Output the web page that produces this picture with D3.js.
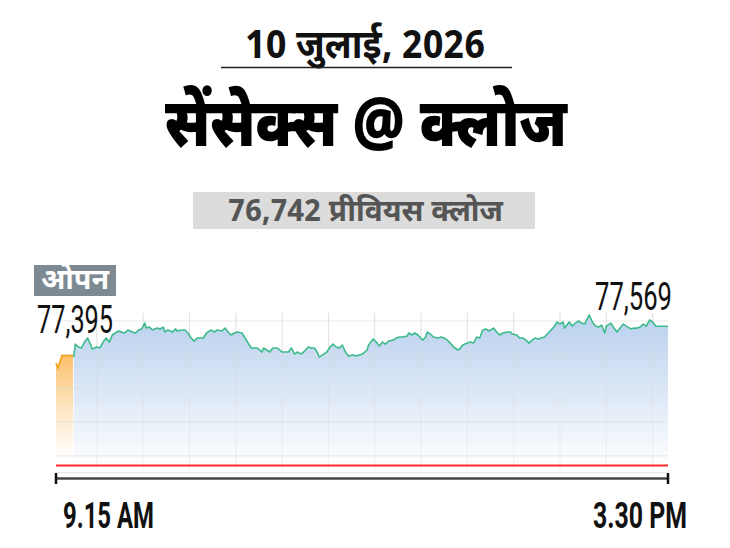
<!DOCTYPE html>
<html><head><meta charset="utf-8">
<script src="https://cdn.jsdelivr.net/npm/d3@7"></script>
<style>body{margin:0;background:#fff;overflow:hidden}</style>
</head><body><svg id="c" width="730" height="548"></svg>
<script>
const dateLabel = "10 जुलाई, 2026";
const titleLabel = "सेंसेक्स @ क्लोज";
const prevCloseLabel = "76,742 प्रीवियस क्लोज";
const openTag = "ओपन";
const openLabel = "77,395";
const closeLabel = "77,569";
const xLabels = ["9.15 AM", "3.30 PM"];
const prevClose = 76742;
// minutes from 9:15
const openTimes = [-11.5, -10.2, -7.6, -0.5];
const openValues = [77350, 77322, 77395, 77395];
const times = [0,1,3,5,7,9,11,12,15,17,
19,21,23,25,27,29,31,33,35,38,
40,42,44,46,47,49,51,54,56,58,
59,61,64,66,67,70,72,74,76,78,
80,84,86,89,91,93,96,98,100,102,
104,106,109,111,113,115,117,119,122,123,
125,127,129,132,135,137,139,141,143,145,
147,149,152,154,156,158,159,161,164,166,
168,170,172,174,176,178,181,183,185,187,
190,191,194,196,198,200,202,204,207,209,
211,213,216,217,219,221,223,226,228,229,
231,233,236,238,240,242,244,246,249,250,
252,255,257,259,261,263,265,267,269,272,
274,276,278,281,283,284,287,289,291,293,
295,297,299,301,303,305,308,310,312,313,
315,317,318,321,323,325,327,329,331,334,
336,338,340,342,344,345,348,350,352,354,
356,358,361,363,365,367,369,371,373,375,
377,380,385];
const values = [77386,77463,77446,77440,77475,77499,77458,77434,77446,77440,
77475,77499,77475,77517,77529,77541,77535,77529,77547,77535,
77529,77547,77553,77588,77558,77564,77547,77558,77553,77564,
77535,77547,77535,77553,77541,77547,77547,77529,77499,77481,
77499,77499,77529,77547,77535,77547,77541,77558,77535,77517,
77529,77535,77529,77499,77469,77440,77440,77440,77416,77440,
77428,77416,77440,77440,77416,77416,77416,77440,77404,77416,
77404,77416,77446,77440,77440,77410,77386,77398,77416,77446,
77463,77446,77440,77458,77416,77392,77398,77392,77398,77404,
77428,77458,77493,77475,77452,77475,77463,77481,77487,77499,
77505,77505,77511,77529,77517,77529,77517,77487,77505,77535,
77523,77505,77499,77505,77499,77487,77469,77446,77428,77434,
77458,77469,77475,77469,77505,77499,77547,77553,77541,77558,
77535,77517,77529,77535,77535,77523,77517,77499,77499,77487,
77469,77487,77499,77493,77499,77505,77535,77553,77576,77594,
77582,77594,77558,77594,77570,77588,77600,77588,77582,77636,
77594,77570,77564,77576,77529,77570,77588,77558,77535,77558,
77582,77570,77553,77558,77558,77564,77582,77570,77606,77594,
77570,77569,77569];
const yGridValues = [76800, 77000, 77200, 77400, 77600];
const xGridTimes = [15,45,75,105,135,165,195,225,255,285,315,345,375];

const svg = d3.select("#c");
const dev = "'Noto Sans Devanagari','Noto Sans','Lohit Devanagari',sans-serif";
const num = "Roboto,'Liberation Sans',sans-serif";

const x = d3.scaleLinear().domain([-11.5, 385]).range([56, 668]);
const y = d3.scaleLinear().domain([76700, 77650]).range([472.65, 312.6]);

const defs = svg.append("defs");
const gb = defs.append("linearGradient").attr("id","gb").attr("gradientUnits","userSpaceOnUse")
  .attr("x1",0).attr("x2",0).attr("y1",318).attr("y2",468);
gb.append("stop").attr("offset",0).attr("stop-color","#bad1ee");
gb.append("stop").attr("offset",0.55).attr("stop-color","#e0eaf7");
gb.append("stop").attr("offset",1).attr("stop-color","#ffffff");
const go = defs.append("linearGradient").attr("id","go").attr("gradientUnits","userSpaceOnUse")
  .attr("x1",0).attr("x2",0).attr("y1",354).attr("y2",458);
go.append("stop").attr("offset",0).attr("stop-color","#fbbf69");
go.append("stop").attr("offset",0.5).attr("stop-color","#fde4c0");
go.append("stop").attr("offset",1).attr("stop-color","#ffffff");

// Titles
svg.append("text").attr("x",365).attr("y",58).attr("text-anchor","middle")
  .attr("font-family",dev).attr("font-weight",700).attr("font-size",40)
  .attr("textLength",240).attr("lengthAdjust","spacingAndGlyphs").attr("fill","#111").text(dateLabel);
svg.append("line").attr("x1",221).attr("x2",512).attr("y1",67.5).attr("y2",67.5)
  .attr("stroke","#222").attr("stroke-width",1.5);
svg.append("text").attr("x",366).attr("y",146).attr("text-anchor","middle")
  .attr("font-family",dev).attr("font-weight",900).attr("font-size",68)
  .attr("textLength",402).attr("lengthAdjust","spacingAndGlyphs").attr("fill","#000").text(titleLabel);
svg.append("rect").attr("x",193).attr("y",192).attr("width",342).attr("height",37).attr("fill","#dcdcdc");
svg.append("text").attr("x",365.5).attr("y",221).attr("text-anchor","middle")
  .attr("font-family",dev).attr("font-weight",700).attr("font-size",31)
  .attr("textLength",275).attr("lengthAdjust","spacingAndGlyphs").attr("fill","#555").text(prevCloseLabel);

// grid
const g = svg.append("g");
g.selectAll(".vg").data(xGridTimes).join("line")
  .attr("x1",d=>x(d)).attr("x2",d=>x(d)).attr("y1",313).attr("y2",y(76700))
  .attr("stroke","#e9e9e9").attr("stroke-width",1);

// areas
const openData = openTimes.map((t,i)=>({t, v:openValues[i]}));
const data = times.map((t,i)=>({t, v:values[i]}));
const area = d3.area().x(d=>x(d.t)).y0(y(76700)).y1(d=>y(d.v));
const line = d3.line().x(d=>x(d.t)).y(d=>y(d.v));
g.append("path").datum(openData).attr("d",area).attr("fill","url(#go)");
g.append("path").datum(data).attr("d",area).attr("fill","url(#gb)");

g.selectAll(".hg").data(yGridValues).join("line")
  .attr("x1",56).attr("x2",668).attr("y1",d=>y(d)).attr("y2",d=>y(d))
  .attr("stroke","#dcdcdc").attr("stroke-opacity",0.6).attr("stroke-width",1);
g.selectAll(".vg2").data(xGridTimes).join("line")
  .attr("x1",d=>x(d)).attr("x2",d=>x(d)).attr("y1",313).attr("y2",y(76700))
  .attr("stroke","#d8d8d8").attr("stroke-opacity",0.35).attr("stroke-width",1);
g.append("line").attr("x1",56).attr("x2",668).attr("y1",y(76700)).attr("y2",y(76700))
  .attr("stroke","#e2e2e2").attr("stroke-width",1);

g.append("path").datum(openData).attr("d",line).attr("fill","none").attr("stroke","#f5a21b").attr("stroke-width",1.7);
g.append("path").datum(data).attr("d",line).attr("fill","none").attr("stroke","#3dba8c").attr("stroke-width",1.6).attr("stroke-linejoin","round");

// prev close line
g.append("line").attr("x1",56).attr("x2",668).attr("y1",y(prevClose)).attr("y2",y(prevClose))
  .attr("stroke","#ff2a2d").attr("stroke-width",2);

// axis
const ax = svg.append("g");
ax.append("line").attr("x1",x.range()[0]).attr("x2",x.range()[1]).attr("y1",478.5).attr("y2",478.5)
  .attr("stroke","#444").attr("stroke-width",2.5);
ax.selectAll(".tk").data(x.domain()).join("line")
  .attr("x1",d=>x(d)).attr("x2",d=>x(d)).attr("y1",473).attr("y2",484)
  .attr("stroke","#111").attr("stroke-width",2.5);
ax.append("text").attr("x",63).attr("y",528).attr("font-family",num).attr("font-weight",700)
  .attr("font-size",36).attr("textLength",91).attr("lengthAdjust","spacingAndGlyphs").attr("fill","#111").text(xLabels[0]);
ax.append("text").attr("x",687).attr("y",528).attr("text-anchor","end").attr("font-family",num).attr("font-weight",700)
  .attr("font-size",36).attr("textLength",94).attr("lengthAdjust","spacingAndGlyphs").attr("fill","#111").text(xLabels[1]);

// labels
svg.append("rect").attr("x",34).attr("y",265).attr("width",82).attr("height",31).attr("fill","#7d8a93");
svg.append("text").attr("x",75).attr("y",289).attr("text-anchor","middle")
  .attr("font-family",dev).attr("font-weight",700).attr("font-size",28)
  .attr("textLength",68).attr("lengthAdjust","spacingAndGlyphs").attr("fill","#fff").text(openTag);
svg.append("text").attr("x",37).attr("y",333).attr("font-family",num).attr("font-weight",400)
  .attr("font-size",38).attr("textLength",76).attr("lengthAdjust","spacingAndGlyphs").attr("fill","#111").text(openLabel);
svg.append("text").attr("x",672).attr("y",310).attr("text-anchor","end").attr("font-family",num).attr("font-weight",400)
  .attr("font-size",38).attr("textLength",77).attr("lengthAdjust","spacingAndGlyphs").attr("fill","#111").text(closeLabel);
</script></body></html>
